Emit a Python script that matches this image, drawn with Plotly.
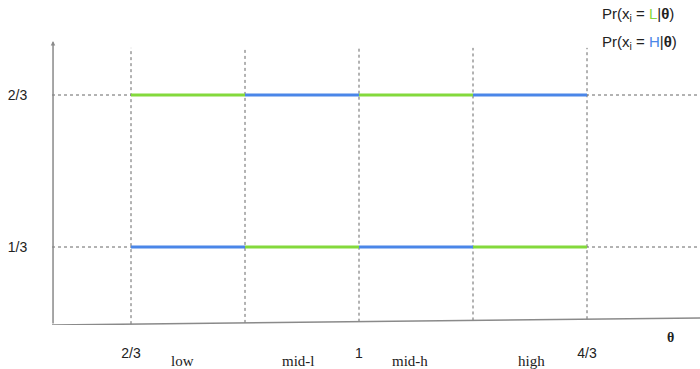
import plotly.graph_objects as go

# ---- data ----
boundaries = [2/3, 5/6, 1.0, 7/6, 4/3]          # theta breakpoints
categories = ["low", "mid-l", "mid-h", "high"]
pr_L = [2/3, 1/3, 2/3, 1/3]                     # Pr(x_i = L | theta)
pr_H = [1/3, 2/3, 1/3, 2/3]                     # Pr(x_i = H | theta)
y_levels = [1/3, 2/3]
y_ticklabels = ["1/3", "2/3"]
x_tickvals = [2/3, 1.0, 4/3]
x_ticklabels = ["2/3", "1", "4/3"]

GREEN = "#84d93c"
BLUE = "#4a86e8"
GRID = "#666666"
AXIS = "#8a8a8a"

# axis ranges (layout)
X0, X1 = 0.55117, 1.49854
Y0, Y1 = 0.16228, 0.875
y_axis_top = 0.785
y_axis_end_right = 0.1776
cat_xshift = [-6, -4, -6, 1]

fig = go.Figure()

def y_on_axis(x):
    return Y0 + (y_axis_end_right - Y0) * (x - X0) / (X1 - X0)

shapes = []
for yl in y_levels:
    shapes.append(dict(type="line", xref="x", yref="y", x0=X0, x1=X1, y0=yl, y1=yl,
                       line=dict(color=GRID, width=1, dash="3px,3px"), layer="below"))
for b in boundaries:
    shapes.append(dict(type="line", xref="x", yref="y", x0=b, x1=b, y0=y_on_axis(b), y1=0.77,
                       line=dict(color=GRID, width=1, dash="3px,3px"), layer="below"))
shapes.append(dict(type="line", xref="x", yref="y", x0=X0, x1=X1, y0=Y0, y1=y_axis_end_right,
                   line=dict(color=AXIS, width=1.5)))

for i, cat in enumerate(categories):
    xs = [boundaries[i], boundaries[i + 1]]
    fig.add_trace(go.Scatter(x=xs, y=[pr_L[i]] * 2, mode="lines",
                             line=dict(color=GREEN, width=3), showlegend=False, hoverinfo="skip"))
    fig.add_trace(go.Scatter(x=xs, y=[pr_H[i]] * 2, mode="lines",
                             line=dict(color=BLUE, width=3), showlegend=False, hoverinfo="skip"))

annotations = []
annotations.append(dict(x=X0 + 0.0015, y=y_axis_top, ax=X0 + 0.0015, ay=Y0, xref="x", yref="y",
                        axref="x", ayref="y", showarrow=True, arrowhead=2, arrowsize=0.6,
                        arrowwidth=1.5, arrowcolor=AXIS, text=""))
for i, cat in enumerate(categories):
    mid = (boundaries[i] + boundaries[i + 1]) / 2
    annotations.append(dict(x=mid, y=-36/325, xref="x", yref="paper", yanchor="middle",
                            xshift=cat_xshift[i], text=cat, showarrow=False,
                            font=dict(family="Liberation Serif", size=15, color="#222")))
annotations.append(dict(x=1.4547, y=-12/325, xref="x", yref="paper", yanchor="middle",
                        text="<b>θ</b>", showarrow=False,
                        font=dict(family="Liberation Serif", size=14, color="#222")))
annotations.append(dict(x=0.8457, y=(325-14)/325, xref="paper", yref="paper", xanchor="left",
                        yanchor="middle",
                        text=f"Pr(x<sub>i</sub> = <span style='color:{GREEN}'>L</span>|<b>θ</b>)",
                        showarrow=False, font=dict(family="Liberation Sans", size=15, color="#222")))
annotations.append(dict(x=0.8457, y=(325-42)/325, xref="paper", yref="paper", xanchor="left",
                        yanchor="middle",
                        text=f"Pr(x<sub>i</sub> = <span style='color:{BLUE}'>H</span>|<b>θ</b>)",
                        showarrow=False, font=dict(family="Liberation Sans", size=15, color="#222")))

fig.update_layout(
    width=700, height=369,
    margin=dict(l=52, r=0, t=0, b=44),
    paper_bgcolor="white", plot_bgcolor="white",
    shapes=shapes, annotations=annotations,
    xaxis=dict(range=[X0, X1], showgrid=False, zeroline=False, showline=False,
               tickmode="array", tickvals=x_tickvals, ticktext=x_ticklabels,
               ticks="outside", ticklen=15, tickcolor="rgba(0,0,0,0)", automargin=False,
               tickfont=dict(family="Liberation Sans", size=14, color="#222")),
    yaxis=dict(range=[Y0, Y1], showgrid=False, zeroline=False, showline=False,
               tickmode="array", tickvals=y_levels, ticktext=y_ticklabels,
               ticks="outside", ticklen=21, tickcolor="rgba(0,0,0,0)", automargin=False,
               tickfont=dict(family="Liberation Sans", size=14, color="#222")),
)

fig.write_html("out.html", config={"displayModeBar": False},
               post_script="document.body.style.margin='0';")
